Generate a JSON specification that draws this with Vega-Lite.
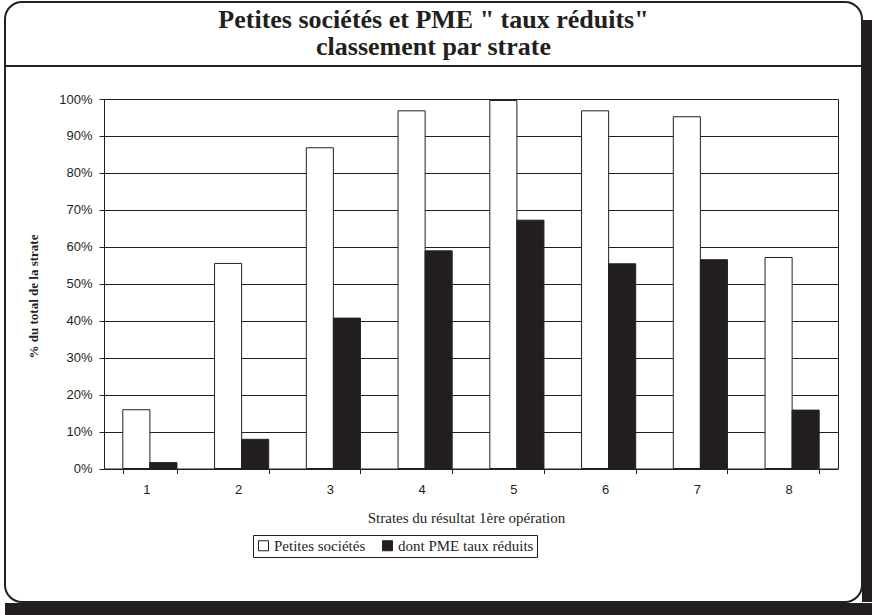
{
  "$schema": "https://vega.github.io/schema/vega-lite/v6.json",
  "width": 857,
  "height": 600,
  "autosize": {"type": "none"},
  "padding": {"left": 5, "top": 2, "right": 10, "bottom": 13},
  "background": "white",
  "title": {
    "text": ["Petites sociétés et PME \" taux réduits\"", "classement par strate"],
    "font": "Liberation Serif",
    "fontSize": 26,
    "fontWeight": "bold",
    "color": "#231f20",
    "lineHeight": 27,
    "anchor": "middle",
    "frame": "group",
    "baseline": "alphabetic",
    "offset": -27,
    "dy": 52
  },
  "config": {
    "view": {"stroke": "#231f20", "strokeWidth": 2, "cornerRadius": 17, "fill": "white"},
    "axis": {
      "labelFont": "Liberation Sans",
      "labelFontSize": 13,
      "labelColor": "#231f20",
      "domainColor": "#231f20",
      "tickColor": "#231f20",
      "gridColor": "#231f20",
      "gridOpacity": 1,
      "tickSize": 5
    }
  },
  "resolve": {"axis": {"y": "independent"}},
  "layer": [
    {
      "data": {"values": [{"k": "shadow"}]},
      "mark": {"type": "rule", "color": "#231f20", "strokeWidth": 12, "xOffset": 15, "x2Offset": 15, "strokeCap": "butt"},
      "encoding": {"y": {"datum": -0.3802, "type": "quantitative", "axis": null}}
    },
    {
      "data": {"values": [{"k": "shadow"}]},
      "mark": {"type": "rule", "color": "#231f20", "strokeWidth": 10, "yOffset": 18, "y2Offset": 18, "strokeCap": "butt"},
      "encoding": {"x": {"datum": "8", "type": "nominal", "bandPosition": 1.883}}
    },
    {
      "data": {
        "values": [
          {"strate": "1", "serie": "Petites sociétés", "pct": 0.159},
          {"strate": "1", "serie": "dont PME taux réduits", "pct": 0.016},
          {"strate": "2", "serie": "Petites sociétés", "pct": 0.555},
          {"strate": "2", "serie": "dont PME taux réduits", "pct": 0.079},
          {"strate": "3", "serie": "Petites sociétés", "pct": 0.868},
          {"strate": "3", "serie": "dont PME taux réduits", "pct": 0.407},
          {"strate": "4", "serie": "Petites sociétés", "pct": 0.968},
          {"strate": "4", "serie": "dont PME taux réduits", "pct": 0.589},
          {"strate": "5", "serie": "Petites sociétés", "pct": 0.996},
          {"strate": "5", "serie": "dont PME taux réduits", "pct": 0.672},
          {"strate": "6", "serie": "Petites sociétés", "pct": 0.968},
          {"strate": "6", "serie": "dont PME taux réduits", "pct": 0.554},
          {"strate": "7", "serie": "Petites sociétés", "pct": 0.952},
          {"strate": "7", "serie": "dont PME taux réduits", "pct": 0.565},
          {"strate": "8", "serie": "Petites sociétés", "pct": 0.571},
          {"strate": "8", "serie": "dont PME taux réduits", "pct": 0.158}
        ]
      },
      "mark": {"type": "bar", "stroke": "#231f20", "strokeWidth": 1},
      "encoding": {
        "x": {
          "field": "strate",
          "type": "nominal",
          "scale": {"range": [99, 833], "paddingInner": 0.41, "paddingOuter": 0.205},
          "axis": {
            "labelAngle": 0,
            "tickBand": "extent",
            "labelPadding": 16,
            "title": "Strates du résultat 1ère opération",
            "titleFont": "Liberation Serif",
            "titleFontSize": 15,
            "titleFontWeight": "normal",
            "titleColor": "#231f20",
            "titleBaseline": "middle",
            "titleY": 49,
            "titleX": 461,
            "offset": -133.5
          }
        },
        "xOffset": {
          "field": "serie",
          "type": "nominal",
          "sort": ["Petites sociétés", "dont PME taux réduits"],
          "scale": {"paddingInner": 0, "paddingOuter": 0}
        },
        "y": {
          "field": "pct",
          "type": "quantitative",
          "scale": {"domain": [0, 1], "range": [466.5, 97], "nice": false},
          "axis": {
            "values": [0, 0.1, 0.2, 0.3, 0.4, 0.5, 0.6, 0.7, 0.8, 0.9, 1],
            "format": ".0%",
            "grid": true,
            "labelPadding": 7,
            "offset": -99,
            "title": "% du total de la strate",
            "titleFont": "Liberation Serif",
            "titleFontSize": 13,
            "titleFontWeight": "bold",
            "titleColor": "#231f20",
            "titleBaseline": "middle",
            "titleX": -71,
            "titleY": 294
          }
        },
        "color": {
          "field": "serie",
          "type": "nominal",
          "scale": {"domain": ["Petites sociétés", "dont PME taux réduits"], "range": ["#ffffff", "#231f20"]},
          "legend": {
            "title": null,
            "orient": "none",
            "legendX": 248,
            "legendY": 533,
            "direction": "horizontal",
            "strokeColor": "#231f20",
            "padding": 3,
            "labelFont": "Liberation Serif",
            "labelFontSize": 15,
            "labelColor": "#231f20",
            "labelOffset": 3,
            "symbolType": "square",
            "symbolSize": 100,
            "symbolStrokeColor": "#231f20",
            "symbolStrokeWidth": 1,
            "symbolOpacity": 1,
            "columnPadding": 14
          }
        }
      }
    },
    {
      "data": {"values": [{"k": "separator"}]},
      "mark": {"type": "rule", "color": "#231f20", "strokeWidth": 2},
      "encoding": {
        "y": {
          "datum": 1.0893,
          "type": "quantitative",
          "axis": {
            "orient": "right",
            "offset": -24,
            "domain": true,
            "ticks": false,
            "labels": false,
            "grid": false,
            "title": null
          }
        }
      }
    }
  ]
}
